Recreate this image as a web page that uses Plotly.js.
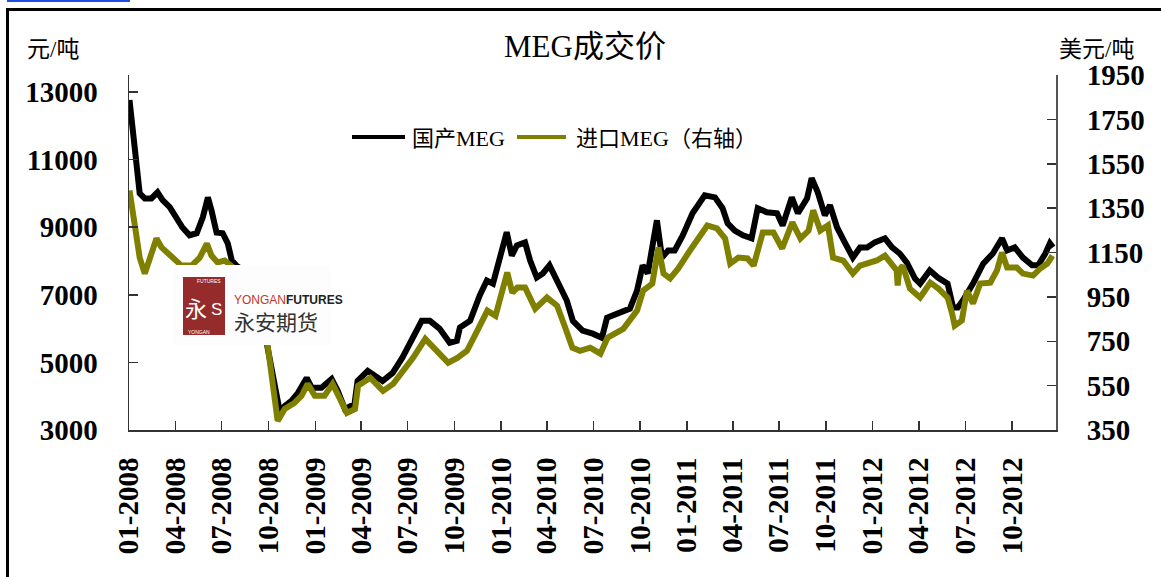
<!DOCTYPE html>
<html>
<head>
<meta charset="utf-8">
<script src="https://cdn.plot.ly/plotly-3.0.1.min.js"></script>
<style>html,body{margin:0;padding:0;background:#fff;}#chart{width:1161px;height:577px;}</style>
</head>
<body>
<div id="chart"></div>
<script>
// ---- data ----
const domesticDates = ['2008-01-02','2008-01-08','2008-01-16','2008-01-22','2008-02-01','2008-02-14','2008-02-26','2008-03-07','2008-03-21','2008-04-03','2008-04-15','2008-04-29','2008-05-13','2008-05-25','2008-06-04','2008-06-11','2008-06-21','2008-07-03','2008-07-13','2008-07-21','2008-07-31','2008-08-15','2008-08-30','2008-09-12','2008-09-22','2008-09-30','2008-10-09','2008-10-19','2008-10-23','2008-11-02','2008-11-15','2008-11-28','2008-12-15','2008-12-25','2009-01-13','2009-02-02','2009-02-14','2009-02-28','2009-03-19','2009-03-25','2009-04-14','2009-05-13','2009-06-02','2009-06-21','2009-07-05','2009-07-29','2009-08-14','2009-09-02','2009-09-22','2009-10-06','2009-10-12','2009-11-01','2009-11-20','2009-12-04','2009-12-16','2009-12-29','2010-01-12','2010-01-22','2010-02-01','2010-02-17','2010-02-27','2010-03-12','2010-03-24','2010-04-06','2010-04-22','2010-05-10','2010-05-22','2010-06-10','2010-06-30','2010-07-18','2010-07-28','2010-08-22','2010-09-11','2010-09-25','2010-10-06','2010-10-16','2010-11-03','2010-11-13','2010-11-25','2010-12-08','2010-12-24','2011-01-12','2011-02-05','2011-02-25','2011-03-12','2011-03-22','2011-04-05','2011-04-21','2011-05-08','2011-05-20','2011-06-07','2011-06-27','2011-07-08','2011-07-26','2011-08-07','2011-08-25','2011-09-03','2011-09-15','2011-09-29','2011-10-09','2011-10-23','2011-11-07','2011-11-23','2011-12-07','2011-12-21','2012-01-05','2012-01-25','2012-02-08','2012-02-23','2012-03-08','2012-03-24','2012-04-03','2012-04-22','2012-05-08','2012-05-27','2012-06-07','2012-06-16','2012-06-26','2012-07-16','2012-08-05','2012-08-24','2012-09-11','2012-09-21','2012-10-06','2012-10-22','2012-11-09','2012-11-21','2012-12-05','2012-12-14','2012-12-20'];
const domesticPrice = [12760,11960,10890,10000,9850,9850,10030,9800,9590,9290,8990,8760,8820,9290,9880,9500,8840,8820,8520,8010,7850,7700,7400,6800,6000,5450,4500,3770,3560,3710,3860,4100,4540,4250,4250,4510,4160,3620,3770,4450,4750,4450,4690,5140,5550,6230,6230,6000,5580,5640,6030,6230,6980,7420,7330,8010,8850,8160,8460,8550,8010,7510,7630,7870,7420,6830,6230,5940,5850,5730,6320,6470,6590,7120,7870,7630,9200,8100,8310,8310,8760,9410,9940,9880,9560,9110,8900,8760,8670,9560,9440,9410,9050,9880,9410,9850,10450,10030,9350,9650,8990,8550,8100,8400,8400,8550,8670,8400,8220,7950,7480,7330,7720,7510,7330,6620,6620,6830,7330,7920,8220,8670,8310,8400,8100,7870,7870,8220,8520,8400];

const importDates = ['2008-01-02','2008-01-12','2008-01-22','2008-02-01','2008-02-10','2008-02-24','2008-03-05','2008-03-17','2008-03-31','2008-04-13','2008-05-03','2008-05-19','2008-06-02','2008-06-11','2008-06-23','2008-07-07','2008-07-25','2008-08-15','2008-09-05','2008-09-20','2008-09-30','2008-10-09','2008-10-19','2008-11-02','2008-11-21','2008-12-05','2008-12-17','2008-12-31','2009-01-19','2009-02-04','2009-02-18','2009-03-04','2009-03-20','2009-03-26','2009-04-19','2009-05-14','2009-06-03','2009-06-22','2009-07-12','2009-08-05','2009-08-28','2009-09-19','2009-10-07','2009-10-26','2009-11-15','2009-12-05','2009-12-21','2010-01-03','2010-01-13','2010-01-23','2010-02-02','2010-02-17','2010-03-09','2010-04-01','2010-04-21','2010-05-07','2010-05-21','2010-06-05','2010-06-25','2010-07-15','2010-07-29','2010-08-29','2010-09-25','2010-10-07','2010-10-25','2010-11-06','2010-11-16','2010-11-29','2010-12-15','2011-01-07','2011-01-21','2011-02-10','2011-03-01','2011-03-17','2011-03-27','2011-04-12','2011-04-30','2011-05-12','2011-05-30','2011-06-20','2011-07-07','2011-07-27','2011-08-12','2011-08-28','2011-09-06','2011-09-20','2011-10-05','2011-10-15','2011-11-04','2011-11-23','2011-12-07','2011-12-21','2012-01-09','2012-01-25','2012-02-08','2012-02-17','2012-02-19','2012-02-22','2012-02-29','2012-03-14','2012-04-03','2012-04-23','2012-05-09','2012-05-27','2012-06-05','2012-06-10','2012-06-24','2012-07-04','2012-07-16','2012-07-30','2012-08-19','2012-09-01','2012-09-11','2012-09-21','2012-10-10','2012-10-22','2012-11-11','2012-11-25','2012-12-09','2012-12-19'];
const importPrice = [1430,1281,1127,1055,1114,1213,1173,1150,1123,1091,1091,1127,1190,1136,1105,1114,1080,1020,930,820,721,571,391,445,472,504,558,504,504,558,495,427,445,549,585,526,558,617,675,761,707,653,675,707,797,888,865,978,1060,969,992,992,897,947,910,811,721,707,721,694,766,806,888,978,1010,1173,1055,1033,1078,1159,1204,1272,1259,1213,1100,1127,1123,1091,1240,1240,1168,1286,1213,1249,1340,1249,1272,1127,1114,1055,1091,1100,1114,1136,1100,1069,1001,1069,1091,987,947,1014,987,947,874,820,843,978,920,1010,1014,1069,1150,1082,1082,1055,1046,1078,1100,1136];

const seriesNames = ['国产MEG', '进口MEG（右轴）'];
const xTickDates = ['2008-01-01','2008-04-01','2008-07-01','2008-10-01','2009-01-01','2009-04-01','2009-07-01','2009-10-01','2010-01-01','2010-04-01','2010-07-01','2010-10-01','2011-01-01','2011-04-01','2011-07-01','2011-10-01','2012-01-01','2012-04-01','2012-07-01','2012-10-01'];
const xTickLabels = ['01-2008','04-2008','07-2008','10-2008','01-2009','04-2009','07-2009','10-2009','01-2010','04-2010','07-2010','10-2010','01-2011','04-2011','07-2011','10-2011','01-2012','04-2012','07-2012','10-2012'];
const leftTicks = [3000,5000,7000,9000,11000,13000];
const rightTicks = [350,550,750,950,1150,1350,1550,1750,1950];
const chartTitle = 'MEG成交价';
const leftUnit = '元/吨';
const rightUnit = '美元/吨';

// ---- layout helpers (pixel -> paper) ----
const L = 129, R = 1056, T = 75, B = 430;
const px = x => (x - L) / (R - L);
const py = y => (B - y) / (B - T);
const serif = 'Liberation Serif, Noto Sans CJK SC, serif';
const cjk = 'Liberation Serif, Noto Sans CJK SC, sans-serif';

const traces = [
  {x: domesticDates, y: domesticPrice, name: seriesNames[0], type: 'scatter', mode: 'lines',
   line: {color: '#000000', width: 6}, yaxis: 'y'},
  {x: importDates, y: importPrice, name: seriesNames[1], type: 'scatter', mode: 'lines',
   line: {color: '#808000', width: 6}, yaxis: 'y2'}
];

const axisCommon = {
  showgrid: false, zeroline: false, showline: true, ticks: 'inside', ticklen: 9,
  tickwidth: 1.5, tickcolor: '#333', linecolor: '#333', linewidth: 1.5,
  tickfont: {family: serif, size: 29, color: '#000', weight: 'bold'}
};

const layout = {
  width: 1161, height: 577,
  margin: {l: L, r: 1161 - R, t: T, b: 577 - B, pad: 0},
  paper_bgcolor: '#fff', plot_bgcolor: '#fff',
  showlegend: false,
  title: {text: chartTitle, font: {family: cjk, size: 31, color: '#000'},
          xref: 'paper', x: px(585), xanchor: 'center', yref: 'container', y: 1 - 46/577, yanchor: 'middle'},
  xaxis: Object.assign({}, axisCommon, {
    type: 'date', range: ['2008-01-01', '2012-12-26'], tickmode: 'array',
    tickvals: xTickDates, ticktext: xTickLabels, tickangle: -90, ticklabelstandoff: 14, linewidth: 2
  }),
  yaxis: Object.assign({}, axisCommon, {
    range: [3000, 13500], tickmode: 'array', tickvals: leftTicks, tickformat: 'd', ticklabelstandoff: 24
  }),
  yaxis2: Object.assign({}, axisCommon, {
    overlaying: 'y', side: 'right', range: [350, 1950], tickmode: 'array', tickvals: rightTicks,
    tickformat: 'd', ticklabelstandoff: 23, linewidth: 2, linecolor: '#555'
  }),
  shapes: [
    // frame
    {type: 'rect', xref: 'paper', yref: 'paper', x0: px(7.5), x1: px(1180), y0: py(600), y1: py(9.5),
     line: {color: '#000', width: 3}, fillcolor: 'rgba(0,0,0,0)', layer: 'below'},
    // blue bar top-left
    {type: 'rect', xref: 'paper', yref: 'paper', x0: px(7), x1: px(130), y0: py(2), y1: py(0),
     line: {width: 0}, fillcolor: '#1f4fe0'},
    // legend samples
    {type: 'line', xref: 'paper', yref: 'paper', x0: px(352), x1: px(405), y0: py(137), y1: py(137),
     line: {color: '#000', width: 4}},
    {type: 'line', xref: 'paper', yref: 'paper', x0: px(517), x1: px(566), y0: py(137), y1: py(137),
     line: {color: '#808000', width: 4}},
    // logo box
    {type: 'rect', xref: 'paper', yref: 'paper', x0: px(173), x1: px(331), y0: py(345), y1: py(265),
     line: {width: 0}, fillcolor: '#fdfdfd', layer: 'above'},
    {type: 'rect', xref: 'paper', yref: 'paper', x0: px(183), x1: px(225), y0: py(335), y1: py(277),
     line: {width: 0}, fillcolor: '#962b2b', layer: 'above'}
  ],
  annotations: [
    {text: leftUnit, xref: 'paper', yref: 'paper', x: px(25), y: py(49), xanchor: 'left', yanchor: 'middle',
     showarrow: false, font: {family: cjk, size: 23, color: '#000'}},
    {text: rightUnit, xref: 'paper', yref: 'paper', x: px(1057), y: py(49), xanchor: 'left', yanchor: 'middle',
     showarrow: false, font: {family: cjk, size: 23, color: '#000'}},
    {text: seriesNames[0], xref: 'paper', yref: 'paper', x: px(410), y: py(138), xanchor: 'left', yanchor: 'middle',
     showarrow: false, font: {family: cjk, size: 22, color: '#000'}},
    {text: seriesNames[1], xref: 'paper', yref: 'paper', x: px(574), y: py(138), xanchor: 'left', yanchor: 'middle',
     showarrow: false, font: {family: cjk, size: 22, color: '#000'}},
    // logo texts
    {text: '永', xref: 'paper', yref: 'paper', x: px(184), y: py(307), xanchor: 'left', yanchor: 'middle',
     showarrow: false, borderpad: 0, font: {family: 'Noto Sans CJK SC', size: 22, color: '#fff'}},
    {text: 'S', xref: 'paper', yref: 'paper', x: px(210), y: py(309), xanchor: 'left', yanchor: 'middle',
     showarrow: false, borderpad: 0, font: {family: 'Liberation Sans', size: 17, color: '#fff'}},
    {text: 'FUTURES', xref: 'paper', yref: 'paper', x: px(223), y: py(281), xanchor: 'right', yanchor: 'middle',
     showarrow: false, font: {family: 'Liberation Sans', size: 5, color: '#fff'}},
    {text: 'YONGAN', xref: 'paper', yref: 'paper', x: px(186), y: py(332), xanchor: 'left', yanchor: 'middle',
     showarrow: false, font: {family: 'Liberation Sans', size: 5, color: '#fff'}},
    {text: '<span style="color:#c0392b">YONGAN</span><b>FUTURES</b>', xref: 'paper', yref: 'paper',
     x: px(232), y: py(300), xanchor: 'left', yanchor: 'middle',
     showarrow: false, font: {family: 'Liberation Sans Narrow, Liberation Sans', size: 12, color: '#222'}},
    {text: '永安期货', xref: 'paper', yref: 'paper', x: px(232), y: py(321), xanchor: 'left', yanchor: 'middle',
     showarrow: false, font: {family: 'Noto Sans CJK SC', size: 21, color: '#333'}}
  ]
};

Plotly.newPlot('chart', traces, layout, {displayModeBar: false, staticPlot: true});
</script>
</body>
</html>
